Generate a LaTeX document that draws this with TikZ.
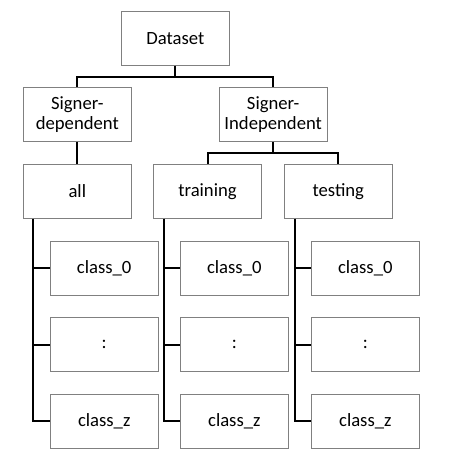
\documentclass[tikz,border=0pt]{standalone}
\usepackage{fontspec}
\setmainfont{Carlito}
\begin{document}
\begin{tikzpicture}[x=0.75pt,y=-0.75pt,
  box/.style={draw=black!50,line width=0.75pt,minimum width=81pt,minimum height=40.5pt,inner sep=0pt,align=center,font=\fontsize{14pt}{15pt}\selectfont,fill=white},
  conn/.style={draw=black,line width=1.5pt,line cap=butt,line join=miter}]
\useasboundingbox (0,0) rectangle (465,471);
\node[box] (ds) at (175.3,38.2) {Dataset};
\node[box] (sd) at (77.3,114.3) {Signer-\\dependent};
\node[box] (si) at (273.2,114.3) {Signer-\\Independent};
\node[box] (all) at (77.3,191.2) {all};
\node[box] (tr) at (207.5,191.2) {training};
\node[box] (te) at (338.3,191.2) {testing};
\foreach \c/\x in {a/104.2,b/234.3,c/365.3}{
  \node[box] (\c0) at (\x,268.2) {class\_0};
  \node[box] (\c1) at (\x,344.5) {:};
  \node[box] (\c2) at (\x,421.3) {class\_z};
}
\coordinate (j1) at (175.3,77);
\coordinate (j2) at (273.2,153.3);
% top level
\draw[conn] (ds.south) -- (j1);
\draw[conn] (sd.north) |- (j1) -| (si.north);
\draw[conn] (sd.south) -- (all.north);
\draw[conn] (si.south) -- (j2);
\draw[conn] (tr.north) |- (j2) -| (te.north);
% trunks
\draw[conn] (all.south -| 33.3,0) |- (a2.west);
\draw[conn] (33.3,0 |- a0.west) -- (a0.west);
\draw[conn] (33.3,0 |- a1.west) -- (a1.west);
\draw[conn] (tr.south -| 164.3,0) |- (b2.west);
\draw[conn] (164.3,0 |- b0.west) -- (b0.west);
\draw[conn] (164.3,0 |- b1.west) -- (b1.west);
\draw[conn] (te.south -| 294.7,0) |- (c2.west);
\draw[conn] (294.7,0 |- c0.west) -- (c0.west);
\draw[conn] (294.7,0 |- c1.west) -- (c1.west);
\end{tikzpicture}
\end{document}
